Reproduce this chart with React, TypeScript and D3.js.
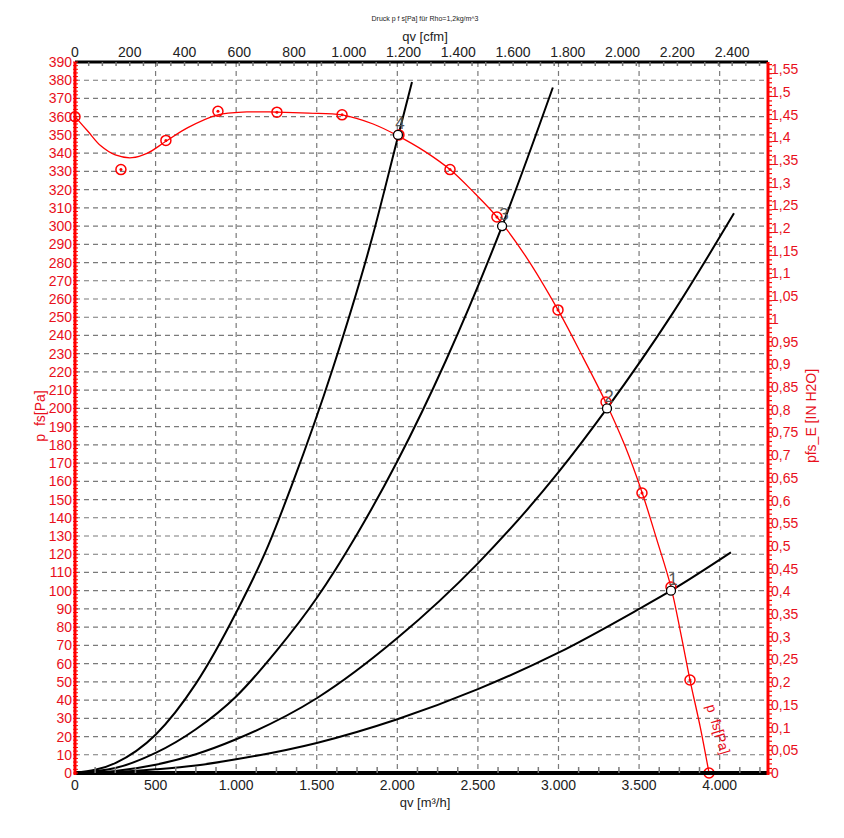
import { useEffect, useRef } from 'react';
import * as d3 from 'd3';

const WIDTH = 844;
const HEIGHT = 838;
const PA_PER_INH2O = 249.0889;
const M3H_PER_CFM = 1.699;

// fan curve p fs [Pa] over qv [m³/h] (smoothed line)
const fanCurve: [number, number][] = [
  [0, 360], [80, 352], [160, 344], [250, 339], [354, 337.5], [450, 340],
  [564, 346.5], [700, 354], [887, 361], [1067, 362.6], [1250, 362.5],
  [1450, 362], [1657, 361], [1850, 356], [2004, 349.5], [2170, 341],
  [2327, 331], [2480, 318], [2618, 305], [2800, 283], [2997, 254],
  [3152, 228], [3295, 203], [3410, 180], [3518, 154], [3610, 128],
  [3698, 102], [3760, 76], [3816, 51], [3880, 25], [3934, 0],
];

// measured points on the fan curve
const fanMarkers: [number, number][] = [
  [0, 360], [285, 331], [564, 347], [887, 363], [1253, 362.5], [1657, 361],
  [2010, 350], [2327, 331], [2618, 305], [2997, 254], [3295, 203.5],
  [3518, 153.6], [3698, 102], [3816, 51], [3934, 0],
];

// system resistance curves
const system1: [number, number][] = [
  [0, 0], [250, 0.5], [500, 2], [750, 4.1], [1000, 7.5], [1500, 16.5],
  [2000, 29.5], [2500, 46], [3000, 66], [3500, 90], [3698, 100], [4070, 121],
];
const system2: [number, number][] = [
  [0, 0], [250, 1.1], [500, 4.5], [750, 10.3], [1000, 18.5], [1500, 41],
  [2000, 74], [2500, 115], [3000, 165], [3301, 200], [3700, 251], [4089, 307],
];
const system3: [number, number][] = [
  [0, 0], [250, 2.7], [500, 11], [750, 24], [1000, 42], [1250, 67],
  [1500, 96], [1750, 131], [2000, 171], [2300, 226], [2650, 300], [2965, 376],
];
const system4: [number, number][] = [
  [0, 0], [250, 5.4], [500, 21], [750, 49], [1000, 88], [1200, 125],
  [1346, 158], [1600, 222], [1842, 293], [2004, 349], [2091, 379],
];

const operatingPoints = [
  { label: '1', q: 3698, p: 100 },
  { label: '2', q: 3301, p: 200 },
  { label: '3', q: 2650, p: 300 },
  { label: '4', q: 2004, p: 350 },
];

const qvTicks = [0, 500, 1000, 1500, 2000, 2500, 3000, 3500, 4000];
const cfmTicks = [0, 200, 400, 600, 800, 1000, 1200, 1400, 1600, 1800, 2000, 2200, 2400];
const paTicks = d3.range(0, 391, 10);
const inh2oTicks = d3.range(0, 32).map((i) => i * 0.05);

const RED = '#ff0000';
const RED_TEXT = '#e8101c';
const FONT = '"Liberation Sans", Arial, sans-serif';

export default function App() {
  const svgRef = useRef<SVGSVGElement>(null);

  useEffect(() => {
    if (!svgRef.current) return;
    const svg = d3.select(svgRef.current);
    svg.selectAll('*').remove();

    const left = 75;
    const right = 768;
    const top = 62;
    const bottom = 773;
    const maxQ = 4300;

    const de = d3.formatLocale({
      decimal: ',',
      thousands: '.',
      grouping: [3],
      currency: ['', '€'],
    });
    const fmtInt = de.format(',d');
    const fmtDec = de.format('.2~f');

    const x = d3.scaleLinear().domain([0, maxQ]).range([left, right]);
    const xCfm = d3.scaleLinear().domain([0, maxQ / M3H_PER_CFM]).range([left, right]);
    const y = d3.scaleLinear().domain([0, 390]).range([bottom, top]);
    const yIn = d3.scaleLinear().domain([0, 390 / PA_PER_INH2O]).range([bottom, top]);

    svg.attr('font-family', FONT);

    // Grid lines
    const grid = svg.append('g').attr('stroke', '#7a7a7a').attr('stroke-width', 1.2).attr('stroke-dasharray', '5,4');
    paTicks.filter((t) => t > 0 && t < 390).forEach((t) => {
      grid.append('line').attr('x1', left).attr('x2', right).attr('y1', y(t)).attr('y2', y(t));
    });
    qvTicks.filter((t) => t > 0).forEach((t) => {
      grid.append('line').attr('x1', x(t)).attr('x2', x(t)).attr('y1', top).attr('y2', bottom);
    });

    // System curves
    const line = d3
      .line<[number, number]>()
      .x((d) => x(d[0]))
      .y((d) => y(d[1]))
      .curve(d3.curveMonotoneX);

    [system1, system2, system3, system4].forEach((s) => {
      svg.append('path').attr('d', line(s)).attr('fill', 'none').attr('stroke', '#000').attr('stroke-width', 2);
    });

    // Fan curve
    const fanLine = line.curve(d3.curveCatmullRom.alpha(0.5));
    svg.append('path').attr('d', fanLine(fanCurve)).attr('fill', 'none').attr('stroke', RED).attr('stroke-width', 1.3);

    const markers = svg.selectAll('.marker').data(fanMarkers).enter().append('g').attr('class', 'marker')
      .attr('transform', (d) => `translate(${x(d[0])},${y(d[1])})`);
    markers.append('circle').attr('r', 5).attr('fill', 'none').attr('stroke', RED).attr('stroke-width', 1.5);
    markers.append('circle').attr('r', 1.5).attr('fill', RED);

    // Operating points
    operatingPoints.forEach((op) => {
      svg.append('circle').attr('cx', x(op.q)).attr('cy', y(op.p)).attr('r', 4.5)
        .attr('fill', '#fff').attr('stroke', '#000').attr('stroke-width', 1.3);
      svg.append('text').attr('x', x(op.q) + 2).attr('y', y(op.p) - 6).attr('text-anchor', 'middle')
        .attr('font-size', 17).attr('fill', '#555').text(op.label);
    });

    // Fan curve label
    svg.append('text')
      .attr('transform', `translate(706,706) rotate(73)`)
      .attr('font-size', 14).attr('fill', RED_TEXT).text('p\u00a0\u00a0fs[Pa]');

    // Bottom axis
    svg.append('line').attr('x1', left).attr('x2', right).attr('y1', bottom).attr('y2', bottom)
      .attr('stroke', '#000').attr('stroke-width', 4);
    d3.range(125, maxQ, 125).filter((t) => t % 500 !== 0).forEach((t) => {
      svg.append('line').attr('x1', x(t)).attr('x2', x(t)).attr('y1', bottom).attr('y2', bottom - 6)
        .attr('stroke', '#777').attr('stroke-width', 1.5);
    });
    qvTicks.forEach((t) => {
      svg.append('text').attr('x', x(t)).attr('y', 790).attr('text-anchor', 'middle')
        .attr('font-size', 14).attr('fill', '#222').text(fmtInt(t));
    });
    svg.append('text').attr('x', 425).attr('y', 807).attr('text-anchor', 'middle')
      .attr('font-size', 13).attr('fill', '#222').text('qv [m³/h]');

    // Top axis (cfm)
    svg.append('line').attr('x1', left).attr('x2', right).attr('y1', top).attr('y2', top)
      .attr('stroke', '#000').attr('stroke-width', 3);
    d3.range(50, maxQ / M3H_PER_CFM, 50).forEach((t) => {
      svg.append('line').attr('x1', xCfm(t)).attr('x2', xCfm(t)).attr('y1', top).attr('y2', top + 4)
        .attr('stroke', '#777').attr('stroke-width', 1.5);
    });
    cfmTicks.forEach((t) => {
      svg.append('text').attr('x', xCfm(t)).attr('y', 57).attr('text-anchor', 'middle')
        .attr('font-size', 14).attr('fill', '#222').text(fmtInt(t));
    });
    svg.append('text').attr('x', 425).attr('y', 41).attr('text-anchor', 'middle')
      .attr('font-size', 13).attr('fill', '#222').text('qv [cfm]');
    svg.append('text').attr('x', 425).attr('y', 21).attr('text-anchor', 'middle')
      .attr('font-size', 7).attr('fill', '#222').text('Druck p f s[Pa] für Rho=1,2kg/m^3');

    // Left axis (Pa)
    svg.append('line').attr('x1', left).attr('x2', left).attr('y1', top).attr('y2', bottom + 2)
      .attr('stroke', RED).attr('stroke-width', 3);
    d3.range(0, 391, 2).forEach((t) => {
      svg.append('line').attr('x1', left - 2).attr('x2', left + 3).attr('y1', y(t)).attr('y2', y(t))
        .attr('stroke', RED).attr('stroke-width', 1);
    });
    paTicks.forEach((t) => {
      svg.append('text').attr('x', 72).attr('y', y(t) + 5).attr('text-anchor', 'end')
        .attr('font-size', 14).attr('fill', RED_TEXT).text(String(t));
    });
    svg.append('text').attr('transform', `translate(45,416) rotate(-90)`).attr('text-anchor', 'middle')
      .attr('font-size', 14).attr('fill', RED_TEXT).text('p\u00a0\u00a0fs[Pa]');

    // Right axis (in H2O)
    svg.append('line').attr('x1', right).attr('x2', right).attr('y1', top).attr('y2', bottom + 2)
      .attr('stroke', RED).attr('stroke-width', 3);
    d3.range(0, 157).map((i) => i / 100).forEach((t) => {
      svg.append('line').attr('x1', right).attr('x2', right + 4).attr('y1', yIn(t)).attr('y2', yIn(t))
        .attr('stroke', RED).attr('stroke-width', 1.2);
    });
    inh2oTicks.forEach((t) => {
      svg.append('text').attr('x', 771).attr('y', yIn(t) + 5).attr('text-anchor', 'start')
        .attr('font-size', 14).attr('fill', RED_TEXT).text(fmtDec(t));
    });
    svg.append('text').attr('transform', `translate(816,416) rotate(-90)`).attr('text-anchor', 'middle')
      .attr('font-size', 14).attr('fill', RED_TEXT).text('pfs_E [IN H2O]');
  }, []);

  return (
    <svg
      ref={svgRef}
      width={WIDTH}
      height={HEIGHT}
      style={{ position: 'absolute', left: 0, top: 0, background: '#fff' }}
    />
  );
}
